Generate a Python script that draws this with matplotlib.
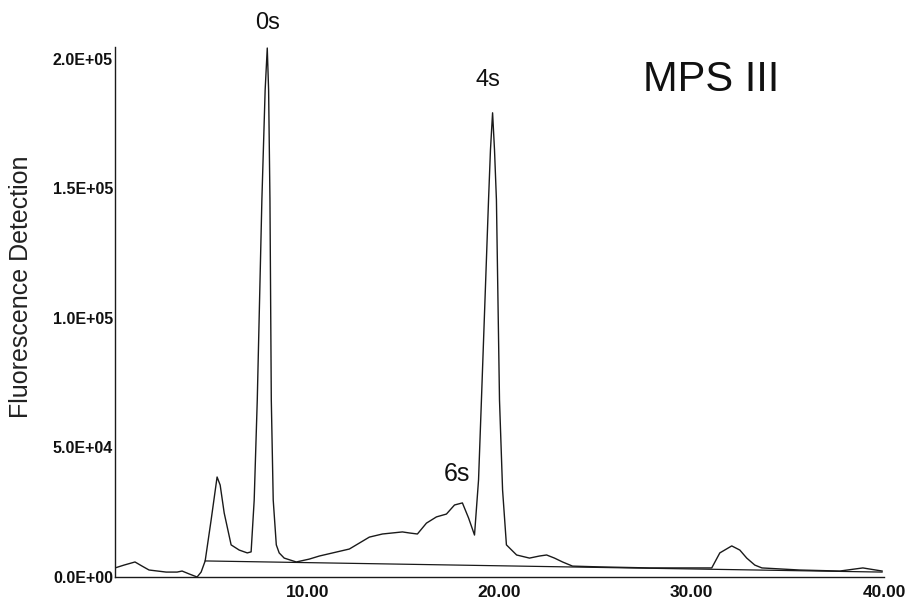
import matplotlib
matplotlib.use("Agg")
import matplotlib.pyplot as plt

plt.rcParams['font.family'] = ['Liberation Sans', 'DejaVu Sans']

# Chromatogram trace: retention time (min) vs fluorescence signal
time_min = [0.0, 0.47, 1.04, 1.41, 1.77, 2.66, 3.23, 3.49, 3.85, 4.27, 4.48,
            4.69, 5.00, 5.31, 5.47, 5.68, 6.04, 6.46, 6.88, 7.08, 7.24, 7.40,
            7.64, 7.81, 7.92, 7.99, 8.06, 8.13, 8.23, 8.39, 8.54, 8.80, 9.43,
            10.10, 10.63, 12.19, 13.23, 13.91, 14.95, 15.31, 15.73, 16.20,
            16.72, 17.24, 17.66, 18.07, 18.39, 18.70, 18.91, 19.06, 19.43,
            19.53, 19.64, 19.74, 19.84, 20.00, 20.16, 20.36, 20.89, 21.56,
            22.08, 22.45, 22.86, 23.28, 23.80, 25.21, 27.80, 30.40, 31.04,
            31.46, 32.08, 32.50, 32.86, 33.28, 33.65, 35.60, 37.70, 38.90, 39.90]
signal = [3500, 4600, 5800, 4200, 2700, 1900, 1900, 2300, 1200, 0, 1900,
          6200, 22000, 38600, 35500, 24700, 12400, 10400, 9300, 9700, 29700, 68300,
          145600, 188000, 204200, 188000, 145600, 68300, 29700, 12400, 9300, 7300, 5800,
          6900, 8100, 10800, 15400, 16600, 17400, 17000, 16600, 20800,
          23200, 24300, 27800, 28600, 22800, 16200, 37500, 68300, 145600,
          164900, 179200, 164900, 145600, 68300, 33600, 12400, 8500, 7300,
          8100, 8500, 7300, 5800, 4200, 3900, 3500, 3500, 3500,
          9300, 12000, 10400, 7300, 4600, 3500, 2700, 2300, 3500, 2300]

# Integration baseline drawn under the peaks
baseline_time = [4.69, 39.90]
baseline_signal = [6200, 1900]

y_ticks = [0, 50000, 100000, 150000, 200000]
y_tick_labels = ["0.0E+00", "5.0E+04", "1.0E+05", "1.5E+05", "2.0E+05"]
x_ticks = [10, 20, 30, 40]
x_tick_labels = ["10.00", "20.00", "30.00", "40.00"]

peak_labels = ["0s", "4s", "6s"]
peak_label_x = [7.92, 19.38, 17.79]
peak_label_y = [213700, 191700, 39800]
peak_label_size = [17, 17, 18]

W, H = 913, 603
fig = plt.figure(figsize=(W / 100, H / 100), dpi=100)
left, right, bottom, top = 115, 884, 577, 47
ax = fig.add_axes([left / W, (H - bottom) / H, (right - left) / W, (bottom - top) / H])

line_color = "#1a1a1a"
ax.plot(time_min, signal, color=line_color, lw=1.0)
ax.plot(baseline_time, baseline_signal, color=line_color, lw=0.9)

ax.set_xlim(0, 40)
ax.set_ylim(0, 204600)

for side in ("top", "right"):
    ax.spines[side].set_visible(False)
for side in ("left", "bottom"):
    ax.spines[side].set_color(line_color)
    ax.spines[side].set_linewidth(1.0)

ax.set_yticks(y_ticks)
ax.set_yticklabels(y_tick_labels, fontsize=11.5, fontweight="bold")
ax.set_xticks(x_ticks)
ax.set_xticklabels(x_tick_labels, fontsize=12.5, fontweight="bold")
ax.tick_params(axis="y", length=0, pad=1.5, colors="#111111")
ax.tick_params(axis="x", length=0, pad=6, colors="#111111")

ax.set_ylabel("Fluorescence Detection", fontsize=18, color="#222222")
ax.yaxis.set_label_coords(-0.107, 0.547)

for lab, lx, ly, fs in zip(peak_labels, peak_label_x, peak_label_y, peak_label_size):
    ax.text(lx, ly, lab, fontsize=fs, ha="center", va="center", color="#111111", clip_on=False)

ax.text(31.0, 191900, "MPS III", fontsize=30, ha="center", va="center", color="#111111")

fig.savefig("out.png", dpi=100)
